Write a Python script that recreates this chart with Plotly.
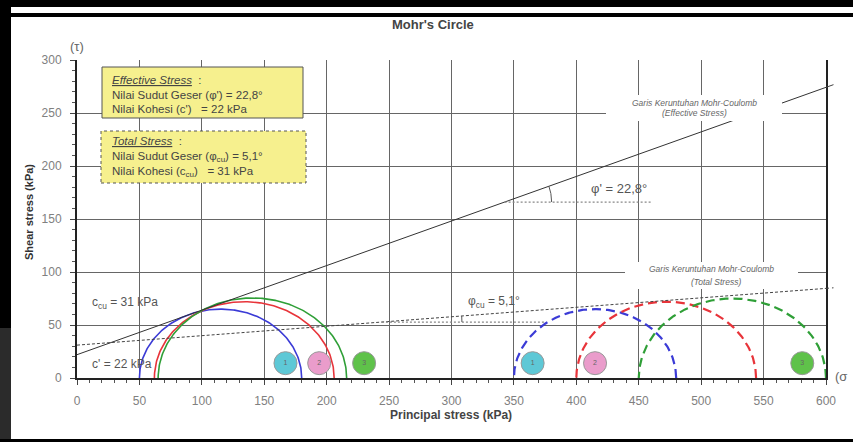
import numpy as np
import plotly.graph_objects as go

# Triaxial test results (kPa): minor / major principal stress per sample
eff_sigma3 = [50, 62, 65]
eff_sigma1 = [180, 206, 216]
tot_sigma3 = [350, 400, 450]
tot_sigma1 = [480, 544, 600]
circle_colors = ["#3b3bd6", "#e8343a", "#2f9f37"]

# Mohr-Coulomb failure envelopes
phi_eff, c_eff = 22.8, 22
phi_tot, c_tot = 5.1, 31

# Sample number badges
sample_ids = ["1", "2", "3"]
badge_x_eff = [167, 194, 230]
badge_x_tot = [365, 415, 581]
badge_y = 14
badge_fill = ["#5ec8d6", "#ea9ccb", "#5fc24a"]

x_ticks = list(range(0, 601, 50))
y_ticks = list(range(0, 301, 50))

W, H = 853, 442
ML, MR, MT, MB = 77, 27, 60, 64
PW, PH = W - ML - MR, H - MT - MB
X_RANGE, Y_RANGE = (0, 600), (0, 300)
SX, SY = PW / (X_RANGE[1] - X_RANGE[0]), PH / (Y_RANGE[1] - Y_RANGE[0])
FONT = "Liberation Sans, Arial, sans-serif"


def pxx(px):
    return (px - ML) / PW


def pxy(py):
    return (MT + PH - py) / PH


fig = go.Figure()

# Mohr circles
theta = np.linspace(0, np.pi, 181)
for s3, s1, col in zip(eff_sigma3, eff_sigma1, circle_colors):
    c, r = (s1 + s3) / 2, (s1 - s3) / 2
    fig.add_trace(go.Scatter(x=c + r * np.cos(theta), y=r * np.sin(theta), mode="lines",
                             line=dict(color=col, width=1.6), hoverinfo="skip"))
for s3, s1, col in zip(tot_sigma3, tot_sigma1, circle_colors):
    c, r = (s1 + s3) / 2, (s1 - s3) / 2
    fig.add_trace(go.Scatter(x=c + r * np.cos(theta), y=r * np.sin(theta), mode="lines",
                             line=dict(color=col, width=2.2, dash="9px,5px"), hoverinfo="skip"))

# Failure envelopes
xe = np.array([0, 600])
fig.add_trace(go.Scatter(x=xe, y=c_eff + xe * np.tan(np.radians(phi_eff)), mode="lines",
                         line=dict(color="#333", width=1), hoverinfo="skip"))
fig.add_trace(go.Scatter(x=xe, y=c_tot + xe * np.tan(np.radians(phi_tot)), mode="lines",
                         line=dict(color="#444", width=1, dash="3px,2px"), hoverinfo="skip"))


# Angle markers: horizontal reference + arc from the envelope
def angle_marker(c, phi, tau_ref, x_end, radius_px):
    t = np.tan(np.radians(phi))
    x0 = (tau_ref - c) / t
    fig.add_trace(go.Scatter(x=[x0, x_end], y=[tau_ref, tau_ref], mode="lines",
                             line=dict(color="#888", width=1.2, dash="2px,2px"), hoverinfo="skip"))
    ang = np.arctan(t * SY / SX)
    a = np.linspace(0, ang, 30)
    fig.add_trace(go.Scatter(x=x0 + radius_px * np.cos(a) / SX, y=tau_ref + radius_px * np.sin(a) / SY,
                             mode="lines", line=dict(color="#555", width=1), hoverinfo="skip"))


angle_marker(c_eff, phi_eff, 166, 460, 47)
angle_marker(c_tot, phi_tot, 52.8, 375, 80)

# Sample badges
for xs in (badge_x_eff, badge_x_tot):
    fig.add_trace(go.Scatter(x=xs, y=[badge_y] * 3, mode="markers+text", text=sample_ids,
                             textposition="middle center",
                             textfont=dict(size=7, color="#666", family=FONT),
                             marker=dict(size=23, color=badge_fill, line=dict(color="#999", width=1)),
                             hoverinfo="skip"))

shapes = []


# Envelopes run a few kPa past the right edge of the frame
def envelope_tail(c, phi, dash):
    t = np.tan(np.radians(phi))
    xa, xb = X_RANGE[1], X_RANGE[1] + 6
    shapes.append(dict(type="line", xref="paper", yref="paper",
                       x0=(xa - X_RANGE[0]) / (X_RANGE[1] - X_RANGE[0]),
                       x1=(xb - X_RANGE[0]) / (X_RANGE[1] - X_RANGE[0]),
                       y0=(c + xa * t) / Y_RANGE[1], y1=(c + xb * t) / Y_RANGE[1],
                       line=dict(color="#444", width=1, dash=dash), layer="above"))


envelope_tail(c_eff, phi_eff, "solid")
envelope_tail(c_tot, phi_tot, "dot")

# Info boxes
shapes.append(dict(type="rect", xref="paper", yref="paper", x0=pxx(102), x1=pxx(303), y0=pxy(118), y1=pxy(67),
                   fillcolor="#f6f08e", line=dict(color="#555", width=1), layer="above"))
shapes.append(dict(type="rect", xref="paper", yref="paper", x0=pxx(101), x1=pxx(306), y0=pxy(183), y1=pxy(131),
                   fillcolor="#f6f08e", line=dict(color="#555", width=1, dash="dot"), layer="above"))
# White backgrounds behind envelope labels
shapes.append(dict(type="rect", xref="paper", yref="paper", x0=pxx(606), x1=pxx(782), y0=pxy(121), y1=pxy(95),
                   fillcolor="white", line=dict(width=0), layer="above"))
shapes.append(dict(type="rect", xref="paper", yref="paper", x0=pxx(625), x1=pxx(798), y0=pxy(289), y1=pxy(262),
                   fillcolor="white", line=dict(width=0), layer="above"))
# Page frame
shapes.append(dict(type="rect", xref="paper", yref="paper", x0=pxx(0), x1=pxx(W), y0=pxy(7), y1=pxy(0),
                   fillcolor="black", line=dict(width=0), layer="above"))
shapes.append(dict(type="rect", xref="paper", yref="paper", x0=pxx(0), x1=pxx(W), y0=pxy(17), y1=pxy(13),
                   fillcolor="black", line=dict(width=0), layer="above"))
shapes.append(dict(type="rect", xref="paper", yref="paper", x0=pxx(0), x1=pxx(11), y0=pxy(328), y1=pxy(0),
                   fillcolor="black", line=dict(width=0), layer="above"))
shapes.append(dict(type="rect", xref="paper", yref="paper", x0=pxx(0), x1=pxx(11), y0=pxy(H), y1=pxy(328),
                   fillcolor="#2b2b2b", line=dict(width=0), layer="above"))
shapes.append(dict(type="rect", xref="paper", yref="paper", x0=pxx(0), x1=pxx(W), y0=pxy(H), y1=pxy(439),
                   fillcolor="black", line=dict(width=0), layer="above"))

ann = []


def txt(text, px, py, size=12, color="#555", xanchor="left", yanchor="middle", **kw):
    ann.append(dict(text=text, xref="paper", yref="paper", x=pxx(px), y=pxy(py), xanchor=xanchor,
                    yanchor=yanchor, showarrow=False, font=dict(size=size, color=color, family=FONT), **kw))


txt("<b>Mohr's Circle</b>", 433, 24, size=13, color="#444", xanchor="center")
txt("(τ)", 68, 46, size=13, color="#666")
txt("(σ", 833, 376, size=13, color="#666")
txt("<b>Shear stress (kPa)</b>", 29, 212, size=11, color="#333", xanchor="center", textangle=-90)
txt("<b>Principal stress (kPa)</b>", 451, 415, size=12, color="#444", xanchor="center")

ul = "<span style='text-decoration:underline'><i>{}</i></span>"
txt(ul.format("Effective Stress") + "  :", 110, 80, size=11.5, color="#444")
txt("Nilai Sudut Geser (φ') = 22,8°", 110, 94.5, size=11.5, color="#444")
txt("Nilai Kohesi (c')   = 22 kPa", 110, 109, size=11.5, color="#444")
txt(ul.format("Total Stress") + "  :", 110, 141, size=11.5, color="#444")
txt("Nilai Sudut Geser (φ<sub>cu</sub>) = 5,1°", 110, 157, size=11.5, color="#444")
txt("Nilai Kohesi (c<sub>cu</sub>)   = 31 kPa", 110, 172, size=11.5, color="#444")

txt("<i>Garis Keruntuhan Mohr-Coulomb</i>", 694, 103, size=8.5, color="#666", xanchor="center")
txt("<i>(Effective Stress)</i>", 694, 113, size=8.5, color="#666", xanchor="center")
txt("<i>Garis Keruntuhan Mohr-Coulomb</i>", 711, 269, size=8.5, color="#666", xanchor="center")
txt("<i>(Total Stress)</i>", 716, 282, size=8.5, color="#666", xanchor="center")

txt("φ' = 22,8°", 589, 188, size=13, color="#555")
txt("φ<sub>cu</sub> = 5,1°", 466, 302, size=12, color="#555")
txt("c<sub>cu</sub> = 31 kPa", 90, 303, size=12, color="#555")
txt("c' = 22 kPa", 90, 364, size=12, color="#555")

axis_common = dict(showgrid=True, gridcolor="#666", gridwidth=1, zeroline=False,
                   showline=True, linecolor="#222", linewidth=2,
                   ticks="outside", ticklen=5, tickcolor="#444",
                   tickfont=dict(size=12, color="#808080", family=FONT),
                   ticklabelstandoff=6,
                   minor=dict(dtick=10, ticks="outside", ticklen=3, tickcolor="#555", showgrid=False))

fig.update_xaxes(range=list(X_RANGE), tickvals=x_ticks, **axis_common)
fig.update_yaxes(range=list(Y_RANGE), tickvals=y_ticks, mirror=True, **axis_common)

fig.update_layout(width=W, height=H, margin=dict(l=ML, r=MR, t=MT, b=MB),
                  paper_bgcolor="white", plot_bgcolor="white", showlegend=False,
                  shapes=shapes, annotations=ann, font=dict(family=FONT))

fig.write_html("out.html")
